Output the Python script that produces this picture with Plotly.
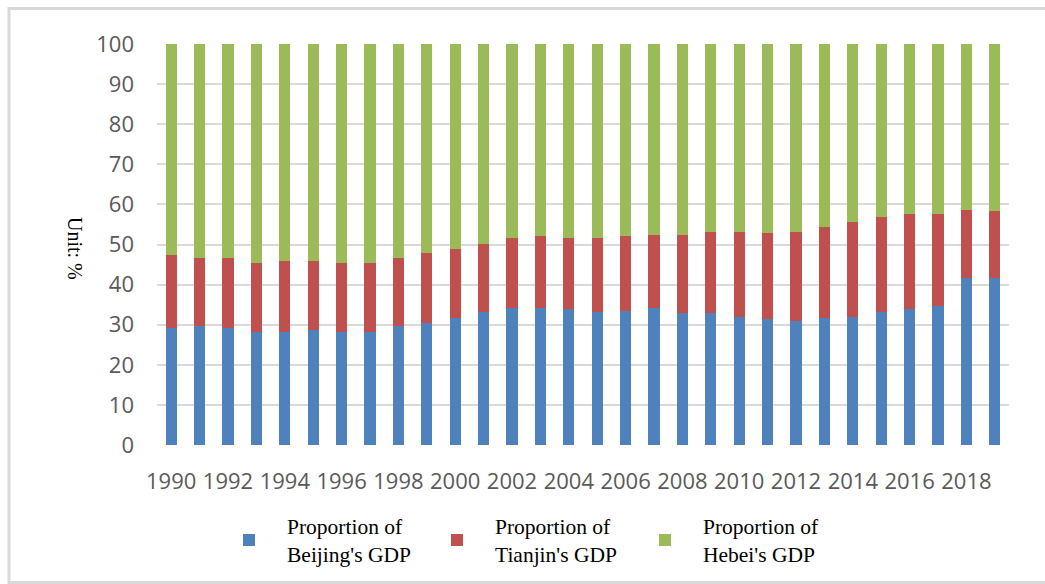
import plotly.graph_objects as go

years = list(range(1990, 2020))

# Shares of regional GDP (%)
beijing = [29.3, 29.6, 29.3, 28.1, 28.1, 28.6, 28.1, 28.1, 29.6, 30.4,
           31.7, 33.2, 34.2, 34.2, 33.9, 33.1, 33.5, 34.2, 32.8, 32.8,
           32.0, 31.3, 30.9, 31.7, 32.0, 33.1, 33.9, 34.7, 41.6, 41.6]
tianjin = [18.2, 17.1, 17.4, 17.4, 17.8, 17.3, 17.4, 17.4, 17.1, 17.4,
           17.3, 17.0, 17.5, 18.0, 17.8, 18.5, 18.5, 18.2, 19.6, 20.4,
           21.2, 21.6, 22.3, 22.6, 23.6, 23.7, 23.6, 22.8, 17.1, 16.7]
hebei = [52.5, 53.3, 53.3, 54.5, 54.1, 54.1, 54.5, 54.5, 53.3, 52.2,
         51.0, 49.8, 48.3, 47.8, 48.3, 48.4, 48.0, 47.6, 47.6, 46.8,
         46.8, 47.1, 46.8, 45.7, 44.4, 43.2, 42.5, 42.5, 41.3, 41.7]

series_names = ["Proportion of<br>Beijing's GDP",
                "Proportion of<br>Tianjin's GDP",
                "Proportion of<br>Hebei's GDP"]
series_colors = ["#4F81BD", "#C0504D", "#9BBB59"]

fig = go.Figure()
for name, vals, col in zip(series_names, [beijing, tianjin, hebei], series_colors):
    fig.add_trace(go.Bar(x=years, y=vals, name=name,
                         marker=dict(color=col, line=dict(width=0))))

W, H = 1045, 584
L, R, T, B = 157, 36, 44, 139
pw, ph = W - L - R, H - T - B

def px_x(p):
    return (p - L) / pw

def px_y(p):
    return (H - B - p) / ph

tick_font = dict(family="Open Sans", size=22, color="#595959")
serif = "Liberation Serif"

fig.update_layout(
    width=W, height=H,
    margin=dict(l=L, r=R, t=T, b=B, pad=0, autoexpand=False),
    paper_bgcolor="white", plot_bgcolor="white",
    barmode="stack", bargap=0.61,
    xaxis=dict(range=[1989.5, 2019.5], tickmode="linear", tick0=1990, dtick=2,
               showgrid=False, zeroline=False, showline=False, ticks="",
               tickfont=tick_font, ticklabelstandoff=21, automargin=False),
    yaxis=dict(range=[0, 100], tickmode="linear", tick0=0, dtick=10,
               showgrid=True, gridcolor="#D9D9D9", gridwidth=1.5,
               zeroline=False, showline=False, ticks="",
               tickfont=tick_font, ticklabelstandoff=22, automargin=False),
    legend=dict(orientation="h", x=px_x(211), xanchor="left",
                y=px_y(540), yanchor="middle",
                font=dict(family=serif, size=21.5, color="#000000"),
                itemwidth=66, entrywidth=127, entrywidthmode="pixels",
                traceorder="normal", bgcolor="rgba(0,0,0,0)"),
    showlegend=True,
    annotations=[dict(text="Unit: %", textangle=90, showarrow=False,
                      xref="paper", yref="paper",
                      x=px_x(75), y=px_y(248), xanchor="center", yanchor="middle",
                      font=dict(family=serif, size=20, color="#000000"))],
    shapes=[dict(type="rect", xref="paper", yref="paper",
                 x0=px_x(9), x1=px_x(1060), y0=px_y(582.5), y1=px_y(8.5),
                 line=dict(color="#D9D9D9", width=3), fillcolor="rgba(0,0,0,0)",
                 layer="below")],
)

fig.write_html("out.html")
